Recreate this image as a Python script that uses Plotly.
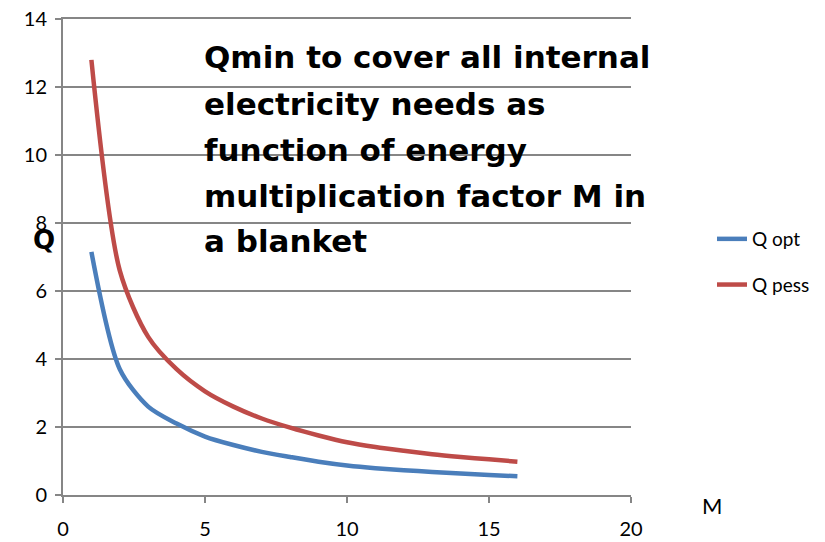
import plotly.graph_objects as go

M = [1, 2, 3, 4, 5, 6, 7, 8, 9, 10, 11, 12, 13, 14, 15, 16]
q_opt = [7.15, 3.7, 2.6, 2.1, 1.72, 1.47, 1.27, 1.12, 0.98, 0.87, 0.79, 0.73, 0.68, 0.63, 0.59, 0.55]
q_pess = [12.8, 6.6, 4.65, 3.7, 3.05, 2.6, 2.25, 1.98, 1.75, 1.55, 1.41, 1.3, 1.2, 1.12, 1.05, 0.98]
title_lines = ["Qmin to cover all internal", "electricity needs as", "function of energy",
               "multiplication factor M in", "a blanket"]

# page has an 8px body margin; figure sized so its plot area lands at x 63..631, y 19..495
OFF = 8
W, H = 817, 534
L, R, T, B = 55, 194, 11, 47
pw, ph = W - L - R, H - T - B

def px(x):
    return (x - OFF - L) / pw

def py(y):
    return (H - B - (y - OFF)) / ph

fig = go.Figure()
fig.add_trace(go.Scatter(x=M, y=q_opt, name="Q opt", mode="lines", legendgroup="a",
                         line=dict(color="#4A7EBB", width=4.5, shape="spline", smoothing=0.8)))
fig.add_trace(go.Scatter(x=M, y=q_pess, name="Q pess", mode="lines", legendgroup="b",
                         line=dict(color="#BE4B48", width=4.5, shape="spline", smoothing=0.8)))

tickfont = dict(family="Lato, Open Sans, sans-serif", size=20, color="#000000")
fig.update_xaxes(range=[0, 20], tickvals=[0, 5, 10, 15, 20], showgrid=False, zeroline=False,
                 showline=True, mirror=True, linecolor="#868686", linewidth=2,
                 ticks="outside", ticklen=6,
                 tickcolor="#868686", tickwidth=2, tickfont=tickfont, ticklabelstandoff=9,
                 automargin=False, ticklabeloverflow="allow")
fig.update_yaxes(range=[0, 14.002], tickvals=[0, 2, 4, 6, 8, 10, 12, 14], showgrid=True,
                 gridcolor="#868686", gridwidth=2, zeroline=False,
                 showline=True, linecolor="#868686", linewidth=2, ticks="outside", ticklen=6,
                 tickcolor="#868686", tickwidth=2, tickfont=tickfont, ticklabelstandoff=4,
                 automargin=False, ticklabeloverflow="allow")

bold_font = dict(family="'DejaVu Sans', sans-serif", size=31,
                 color="#000000", weight="bold")
centers = [57, 103.5, 150, 195.5, 240.5]
for txt, cy in zip(title_lines, centers):
    fig.add_annotation(text=txt, xref="paper", yref="paper", x=px(202), y=py(cy),
                       xanchor="left", yanchor="middle", showarrow=False, font=bold_font)

fig.add_annotation(text="Q", xref="paper", yref="paper", x=px(44), y=py(240),
                   xanchor="center", yanchor="middle", showarrow=False,
                   font=dict(family="'DejaVu Sans', sans-serif", size=26,
                             color="#000000", weight="bold"))
fig.add_annotation(text="M", xref="paper", yref="paper", x=px(712), y=py(506),
                   xanchor="center", yanchor="middle", showarrow=False,
                   font=dict(family="Lato, Open Sans, sans-serif", size=22, color="#000000"))

fig.update_layout(
    width=W, height=H, autosize=False,
    margin=dict(l=L, r=R, t=T, b=B, autoexpand=False),
    paper_bgcolor="white", plot_bgcolor="white",
    showlegend=True,
    legend=dict(x=px(712), y=py(220), xanchor="left", yanchor="top",
                font=dict(family="Lato, Open Sans, sans-serif", size=19, color="#000000"),
                tracegroupgap=18, bgcolor="rgba(0,0,0,0)"),
)

fig.write_html("out.html")
